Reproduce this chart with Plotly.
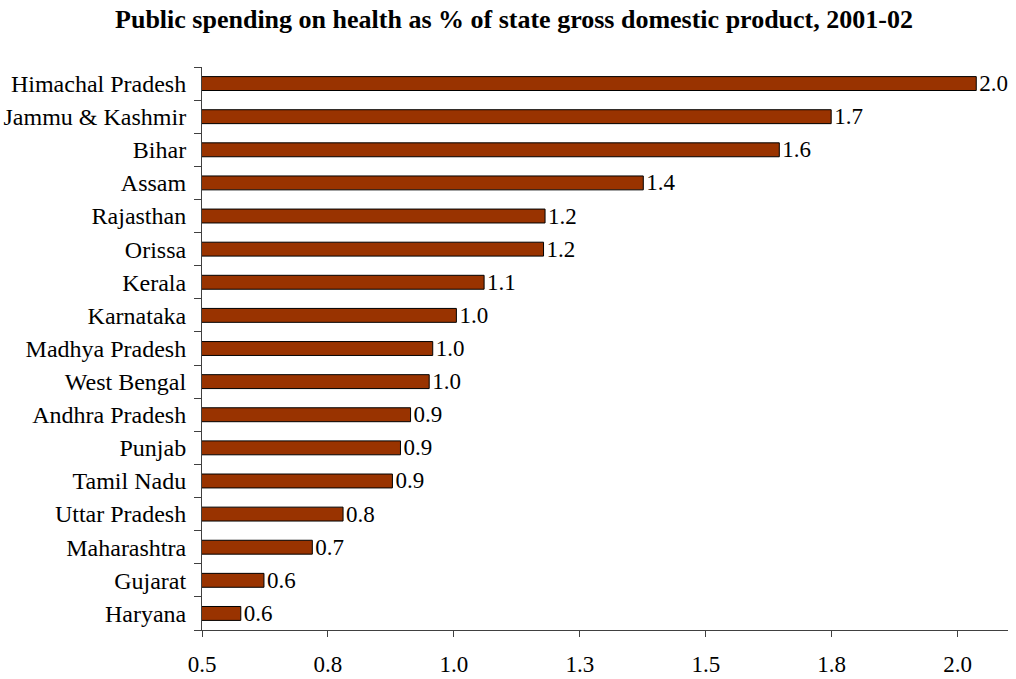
import plotly.graph_objects as go

# Public spending on health as % of state GDP, 2001-02 (top to bottom)
states = [
    "Himachal Pradesh", "Jammu & Kashmir", "Bihar", "Assam", "Rajasthan",
    "Orissa", "Kerala", "Karnataka", "Madhya Pradesh", "West Bengal",
    "Andhra Pradesh", "Punjab", "Tamil Nadu", "Uttar Pradesh",
    "Maharashtra", "Gujarat", "Haryana",
]
spending_pct = [
    2.037, 1.749, 1.646, 1.376, 1.181,
    1.178, 1.060, 1.005, 0.958, 0.951,
    0.914, 0.894, 0.878, 0.780,
    0.719, 0.623, 0.577,
]

x_tick_values = [0.5, 0.75, 1.0, 1.25, 1.5, 1.75, 2.0]
x_tick_labels = ["0.5", "0.8", "1.0", "1.3", "1.5", "1.8", "2.0"]

SERIF = "Liberation Serif, Times New Roman, serif"

fig = go.Figure(
    go.Bar(
        x=spending_pct,
        y=states,
        orientation="h",
        marker=dict(color="#993300", line=dict(color="#000000", width=1)),
        texttemplate="%{x:.1f}",
        textposition="outside",
        constraintext="none",
        textfont=dict(family=SERIF, size=23, color="#000000"),
        cliponaxis=False,
        hoverinfo="skip",
    )
)

fig.update_layout(
    width=1016,
    height=679,
    margin=dict(l=202, r=8, t=67, b=49, autoexpand=False),
    paper_bgcolor="#ffffff",
    plot_bgcolor="#ffffff",
    bargap=0.58,
    showlegend=False,
    font=dict(family=SERIF, size=23, color="#000000"),
    title=dict(
        text="<b>Public spending on health as % of state gross domestic product, 2001-02</b>",
        x=514 / 1016,
        xanchor="center",
        y=1 - 19 / 679,
        yanchor="middle",
        yref="container",
        font=dict(family=SERIF, size=26, color="#000000"),
    ),
)

fig.update_xaxes(
    range=[0.5, 2.1],
    tickvals=x_tick_values,
    ticktext=x_tick_labels,
    ticks="outside",
    ticklen=6,
    tickcolor="#404040",
    showline=True,
    linecolor="#404040",
    linewidth=1,
    showgrid=False,
    zeroline=False,
    automargin=False,
    ticklabelstandoff=7,
    tickfont=dict(family=SERIF, size=23, color="#000000"),
)

fig.update_yaxes(
    categoryorder="array",
    categoryarray=list(reversed(states)),
    ticks="outside",
    tickson="boundaries",
    ticklen=7,
    tickcolor="#404040",
    showline=True,
    linecolor="#404040",
    linewidth=1,
    showgrid=False,
    automargin=False,
    ticklabelstandoff=10,
    tickfont=dict(family=SERIF, size=24, color="#000000"),
)

fig.write_html("out.html")
